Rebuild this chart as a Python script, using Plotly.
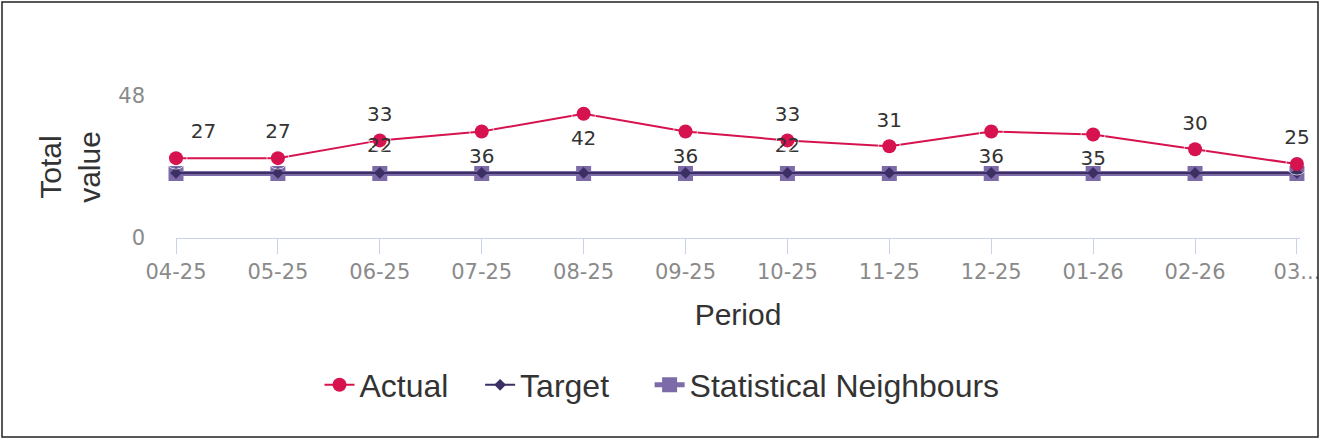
import plotly.graph_objects as go

# Data
periods = ['04-25', '05-25', '06-25', '07-25', '08-25', '09-25',
           '10-25', '11-25', '12-25', '01-26', '02-26', '03-26']
tick_labels = ['04-25', '05-25', '06-25', '07-25', '08-25', '09-25',
               '10-25', '11-25', '12-25', '01-26', '02-26', '03...']
actual = [27, 27, 33, 36, 42, 36, 33, 31, 36, 35, 30, 25]
target = [22, 22, 22, 22, 22, 22, 22, 22, 22, 22, 22, 22]
stat_neighbours = [21.8] * 12

# label placement as in the reference (some labels sit below the point)
actual_label_pos = ['top right', 'top center', 'top center', 'bottom center',
                    'bottom center', 'bottom center', 'top center', 'top center',
                    'bottom center', 'bottom center', 'top center', 'top center']
target_labels = ['', '', '22', '', '', '', '22', '', '', '', '', '']

W, H = 1321, 441
ML, MR, MT, MB = 176, 21, 96, 203
PAD = '\u00a0'  # non-breaking space, widens the gap between legend entries

label_font = dict(family='DejaVu Sans', size=20, color='#333333')
tick_font = dict(family='DejaVu Sans', size=21, color='#8a8a8a')
title_font = dict(family='Liberation Sans', size=30, color='#333333')

fig = go.Figure()

fig.add_trace(go.Scatter(
    x=periods, y=stat_neighbours, name='Statistical Neighbours',
    mode='lines+markers',
    line=dict(color='#7d6aa8', width=5),
    marker=dict(symbol='square', size=15, color='#7d6aa8'),
    cliponaxis=False,
    legendrank=3
))

fig.add_trace(go.Scatter(
    x=periods, y=target, name='Target' + PAD * 4,
    mode='lines+markers',
    line=dict(color='#3b2f63', width=2),
    marker=dict(symbol='diamond', size=9, color='#3b2f63'),
    cliponaxis=False,
    legendrank=2
))

fig.add_trace(go.Scatter(
    x=periods, y=actual, name='Actual' + PAD * 3,
    mode='lines+markers',
    line=dict(color='#d6134f', width=2),
    marker=dict(symbol='circle', size=14, color='#d6134f'),
    cliponaxis=False,
    legendrank=1
))

# data labels: transparent markers only set the distance of the text from the point
fig.add_trace(go.Scatter(
    x=periods, y=target, mode='markers+text', showlegend=False,
    hoverinfo='skip',
    marker=dict(size=24, color='rgba(0,0,0,0)'),
    text=target_labels, textposition='top center', textfont=label_font,
    cliponaxis=False
))

fig.add_trace(go.Scatter(
    x=periods, y=actual, mode='markers+text', showlegend=False,
    hoverinfo='skip',
    marker=dict(size=[24 if p.startswith('bottom') else 22 for p in actual_label_pos],
                color='rgba(0,0,0,0)'),
    text=[str(v) for v in actual], textposition=actual_label_pos,
    textfont=label_font,
    cliponaxis=False
))

fig.update_xaxes(
    title_text='Period',
    title_font=title_font,
    title_standoff=20,
    tickmode='array', tickvals=periods, ticktext=tick_labels,
    tickfont=tick_font,
    range=[0, 11.03],
    automargin=False,
    showgrid=False,
    showline=True, linecolor='#c8d3ea', linewidth=1,
    ticks='outside', ticklen=15, tickcolor='#c8d3ea',
    zeroline=False
)

fig.update_yaxes(
    title_text='Total<br>value',
    title_font=title_font,
    title_standoff=8,
    range=[0, 48],
    tickmode='array', tickvals=[0, 48],
    tickfont=tick_font,
    ticklabelstandoff=30,
    showgrid=False, zeroline=False, showline=False
)

# frame around the whole chart (paper coords computed from margins)
pw = W - ML - MR
ph = H - MT - MB
fig.add_shape(
    type='rect', xref='paper', yref='paper',
    x0=(2 - ML) / pw, x1=(1318 - ML) / pw,
    y0=(H - MB - 437) / ph, y1=(H - MB - 2) / ph,
    line=dict(color='#222222', width=1.5), fillcolor='rgba(0,0,0,0)'
)

fig.update_layout(
    width=W, height=H,
    margin=dict(l=ML, r=MR, t=MT, b=MB),
    plot_bgcolor='white', paper_bgcolor='white',
    showlegend=True,
    legend=dict(
        orientation='h', x=(662 - ML) / pw, xanchor='center',
        y=(H - MB - 385) / ph, yanchor='middle',
        font=dict(family='Liberation Sans', size=32, color='#333333'),
        itemwidth=30
    ),
    font=dict(family='Liberation Sans', color='#333333')
)

fig.write_html('out.html', config={'displayModeBar': False},
               post_script="document.body.style.margin='0';")
